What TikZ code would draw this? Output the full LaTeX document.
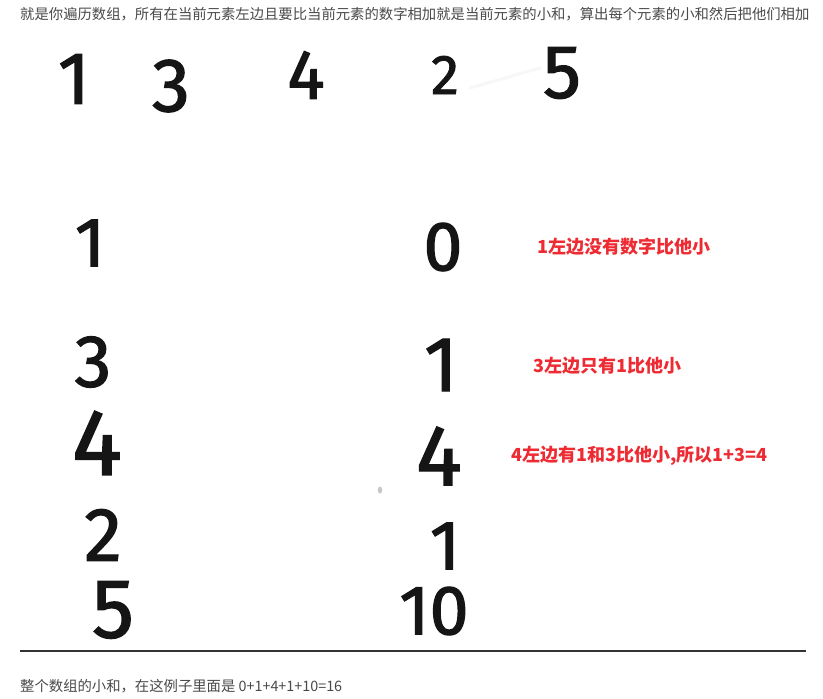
\documentclass[tikz,border=0pt]{standalone}
\usepackage{fontspec}
\newfontfamily\cjk{Noto Sans CJK SC}
\newfontfamily\hwfont{Fira Sans}[FakeBold=1.6]
\definecolor{ink}{HTML}{151515}
\definecolor{redtxt}{HTML}{EE2B33}
\definecolor{graytxt}{HTML}{4A4A4A}
\definecolor{rulecol}{HTML}{333333}
\tikzset{
  hw/.style={inner sep=0pt, text=ink, font={\hwfont\fontsize{#1}{#1}\selectfont}},
  note/.style={inner sep=0pt, anchor=west, text=redtxt, font={\cjk\bfseries\fontsize{18}{18}\selectfont}},
  plain/.style={inner sep=0pt, anchor=west, text=graytxt, font={\cjk\fontsize{#1}{#1}\selectfont}}
}
\begin{document}
\begin{tikzpicture}[x=1pt,y=-1pt]
\useasboundingbox[fill=white] (0,0) rectangle (823,699);
% top description
\node[plain=14.35] (intro) at (20,14) {就是你遍历数组，所有在当前元素左边且要比当前元素的数字相加就是当前元素的小和，算出每个元素的小和然后把他们相加};
% top row of handwritten digits
\node[hw=74] (t1) at (74,79) {1};
\node[hw=76] (t3) at (171,86) {3};
\node[hw=70] (t4) at (306,75) {4};
\node[hw=56] (t2) at (445,75) {2};
\node[hw=76] (t5) at (562,73) {5};
% left column
\node[hw=70] (l1) at (90,243) {1};
\node[hw=74] (l3) at (93,362) {3};
\node[hw=94] (l4) at (97,443) {4};
\node[hw=76] (l2) at (103,535) {2};
\node[hw=84] (l5) at (113,610) {5};
% right column
\node[hw=70] (r0) at (443,247) {0};
\node[hw=78] (r1) at (441,365) {1};
\node[hw=86] (r4) at (439,456) {4};
\node[hw=70] (r1b) at (445,546) {1};
\node[hw=70] (r10) at (434,611) {10};
% red notes
\node[note] (n1) at (537,247) {1左边没有数字比他小};
\node[note] (n3) at (533,366) {3左边只有1比他小};
\node[note] (n4) at (511,456) {4左边有1和3比他小,所以1+3=4};
% faint smudges
\fill[black!22] (380,490) ellipse [x radius=2.2, y radius=3.5];
\draw[black!3, line width=3pt, line cap=round] (470,88) -- (540,68);
% rule
\draw[rulecol, line width=1.2pt] (20,651) -- (806,651);
% bottom sentence
\node[plain=14.35] (sum) at (20,686) {整个数组的小和，在这例子里面是 0+1+4+1+10=16};
\end{tikzpicture}
\end{document}
